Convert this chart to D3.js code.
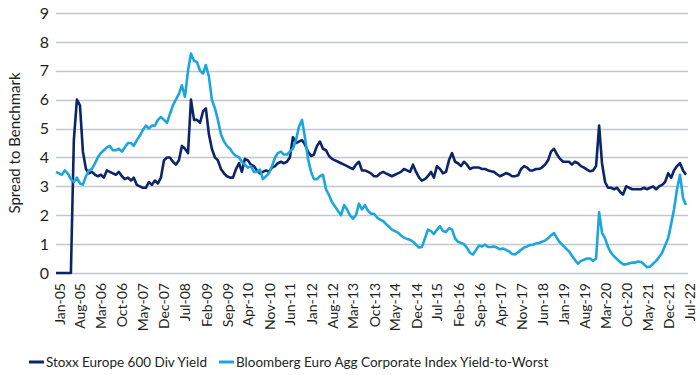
<!DOCTYPE html>
<html>
<head>
<meta charset="utf-8">
<script src="https://cdn.jsdelivr.net/npm/d3@7"></script>
<style>
  body { margin: 0; background: #fff; }
  svg text { font-family: Lato, "Open Sans", sans-serif; fill: #231f20; }
</style>
</head>
<body>
<svg id="spreadChart" width="700" height="375"></svg>
<script>
// monthly readings, Jan-05 .. Jul-22
var startMonth = "2005-01";
var yTicks = [0, 1, 2, 3, 4, 5, 6, 7, 8, 9];

var stoxxDivYield = [
  0, 0, 0, 0, 0, 0, 4.6, 6.0, 5.8, 4.2, 3.6,
  3.45, 3.5, 3.4, 3.35, 3.4, 3.3, 3.55, 3.5, 3.45, 3.4,
  3.5, 3.35, 3.25, 3.3, 3.2, 3.3, 3.05, 3.0, 2.95, 2.95,
  3.15, 3.05, 3.2, 3.1, 3.3, 3.9, 4.0, 4.0, 3.85, 3.75,
  3.9, 4.4, 4.3, 4.15, 6.0, 5.3, 5.3, 5.2, 5.6, 5.7,
  4.8, 4.3, 4.0, 3.9, 3.6, 3.45, 3.35, 3.3, 3.3, 3.6,
  3.8, 3.5, 3.95, 3.9, 3.75, 3.7, 3.55, 3.45, 3.5, 3.55,
  3.5, 3.65, 3.7, 3.8, 3.85, 3.8, 3.85, 4.0, 4.7, 4.5,
  4.55, 4.6, 4.45, 4.2, 4.05, 4.1, 4.4, 4.55, 4.3, 4.25,
  4.05, 3.95, 3.9, 3.85, 3.8, 3.75, 3.7, 3.65, 3.6, 3.75,
  3.85, 3.55, 3.55, 3.5, 3.45, 3.35, 3.35, 3.45, 3.5, 3.45,
  3.4, 3.35, 3.4, 3.45, 3.5, 3.6, 3.55, 3.5, 3.75, 3.5,
  3.3, 3.2, 3.25, 3.35, 3.5, 3.3, 3.7, 3.6, 3.45, 3.5,
  3.9, 4.15, 3.85, 3.8, 3.7, 3.85, 3.75, 3.6, 3.65, 3.65,
  3.65, 3.6, 3.6, 3.55, 3.52, 3.5, 3.42, 3.35, 3.4, 3.46,
  3.42, 3.35, 3.35, 3.38, 3.6, 3.7, 3.65, 3.55, 3.55, 3.6,
  3.6, 3.65, 3.75, 3.9, 4.2, 4.3, 4.1, 3.95, 3.85, 3.85,
  3.85, 3.75, 3.85, 3.8, 3.7, 3.65, 3.58, 3.52, 3.55, 3.7,
  5.1, 3.8, 3.15, 2.95, 2.95, 2.9, 2.95, 2.8, 2.72, 3.0,
  2.95, 2.9, 2.9, 2.9, 2.9, 2.95, 2.9, 2.95, 3.0, 2.9,
  3.0, 3.05, 3.15, 3.45, 3.3, 3.55, 3.7, 3.8, 3.55, 3.4
];

var bbgEuroAggYtw = [
  3.5, 3.45, 3.4, 3.55, 3.45, 3.25, 3.15, 3.3, 3.1, 3.06, 3.35,
  3.55, 3.6, 3.8, 4.0, 4.15, 4.25, 4.35, 4.4, 4.25, 4.25,
  4.3, 4.2, 4.35, 4.5, 4.5, 4.4, 4.6, 4.75, 4.95, 5.1,
  5.0, 5.1, 5.1, 5.3, 5.4, 5.3, 5.2, 5.5, 5.8, 6.0,
  6.2, 6.5, 6.1, 7.0, 7.6, 7.35, 7.3, 7.0, 6.9, 7.2,
  6.8, 6.0, 5.7, 5.3, 4.8, 4.55, 4.4, 4.3, 4.15, 4.05,
  4.0, 3.85, 3.75, 3.65, 3.7, 3.5, 3.5, 3.58, 3.25, 3.35,
  3.45, 3.7, 4.0, 4.15, 4.2, 4.1, 4.1, 4.2, 4.3, 4.6,
  5.05, 5.3, 4.7, 3.95, 3.5, 3.25, 3.25, 3.35, 3.4, 2.9,
  2.7, 2.45, 2.3, 2.15, 2.0, 2.35, 2.2, 2.0, 1.88, 2.0,
  2.4, 2.2, 2.35, 2.15, 2.05, 2.05, 1.92, 1.85, 1.8, 1.7,
  1.6, 1.5, 1.45, 1.4, 1.3, 1.22, 1.18, 1.15, 1.08, 0.98,
  0.88, 0.9, 1.2, 1.5, 1.45, 1.35, 1.5, 1.62, 1.45, 1.42,
  1.55, 1.5, 1.2, 1.08, 1.04, 1.0, 0.87, 0.7, 0.64, 0.8,
  0.95, 0.92, 0.98, 0.9, 0.9, 0.92, 0.88, 0.82, 0.85, 0.8,
  0.75, 0.66, 0.64, 0.72, 0.8, 0.88, 0.92, 0.97, 0.98, 1.02,
  1.04, 1.08, 1.12, 1.2, 1.3, 1.38, 1.2, 1.05, 0.95, 0.85,
  0.75, 0.6, 0.45, 0.32, 0.42, 0.46, 0.5, 0.5, 0.42, 0.5,
  2.1, 1.4, 1.2, 0.9, 0.7, 0.58, 0.48, 0.38, 0.3, 0.3,
  0.33, 0.36, 0.36, 0.4, 0.38, 0.3, 0.2, 0.22, 0.32, 0.42,
  0.55, 0.7, 0.95, 1.2, 1.7, 2.2, 2.9, 3.4, 2.6, 2.35
];

var seriesNames = ["Stoxx Europe 600 Div Yield", "Bloomberg Euro Agg Corporate Index Yield-to-Worst"];
var seriesColors = ["#0c2468", "#1ba6de"];

var parseMonth = d3.timeParse("%Y-%m");
var fmtTick = d3.timeFormat("%b-%y");

var svg = d3.select("#spreadChart"),
  margin = { top: 13, right: 14, bottom: 102, left: 56 },
  width = +svg.attr("width") - margin.left - margin.right,
  height = +svg.attr("height") - margin.top - margin.bottom;

var t0 = parseMonth(startMonth);
var dates = stoxxDivYield.map(function(d, i) {
  return d3.timeMonth.offset(t0, i);
});

var x = d3.scaleTime()
  .domain([t0, dates[dates.length - 1]])
  .range([0, 630]);
var y = d3.scaleLinear().domain([0, 9]).range([height, 0]);

var g = svg.append("g")
  .attr("transform", "translate(" + margin.left + "," + margin.top + ")");

// horizontal gridlines
g.append("g")
  .attr("class", "grid")
  .selectAll("line")
  .data(yTicks)
  .enter()
  .append("line")
  .attr("x1", 0)
  .attr("x2", 632)
  .attr("y1", function(d) { return Math.round(y(d)) + 0.5; })
  .attr("y2", function(d) { return Math.round(y(d)) + 0.5; })
  .attr("stroke", "#c3c7cc")
  .attr("stroke-width", 1.4);

// y axis labels
g.append("g")
  .call(d3.axisLeft(y).tickValues(yTicks).tickSize(0).tickPadding(7))
  .call(function(a) { a.select(".domain").remove(); })
  .selectAll("text")
  .style("font-size", "16px");

// x axis, one tick every 7 months
var xTicks = d3.range(0, dates.length, 7).map(function(i) { return dates[i]; });
g.append("g")
  .attr("transform", "translate(0," + height + ")")
  .call(d3.axisBottom(x).tickValues(xTicks).tickFormat(fmtTick).tickSize(0))
  .call(function(a) { a.select(".domain").remove(); })
  .selectAll("text")
  .style("font-size", "14px")
  .attr("text-anchor", "end")
  .attr("dx", 0)
  .attr("dy", 0)
  .attr("transform", "translate(5,10) rotate(-90)");

// y axis title
svg.append("text")
  .attr("transform", "translate(20," + (margin.top + height / 2) + ") rotate(-90)")
  .attr("text-anchor", "middle")
  .style("font-size", "15px")
  .text("Spread to Benchmark");

var line = d3.line()
  .x(function(d, i) { return x(dates[i]); })
  .y(function(d) { return y(d); });

[stoxxDivYield, bbgEuroAggYtw].forEach(function(vals, k) {
  g.append("path")
    .datum(vals)
    .attr("fill", "none")
    .attr("stroke", seriesColors[k])
    .attr("stroke-width", 2.6)
    .attr("stroke-linejoin", "round")
    .attr("d", line);
});

// legend, items laid out one after the other
var legend = svg.append("g").attr("transform", "translate(0,362)");
var cursor = 29;
seriesNames.forEach(function(name, k) {
  legend.append("line")
    .attr("x1", cursor)
    .attr("x2", cursor + 15)
    .attr("stroke", seriesColors[k])
    .attr("stroke-width", 3);
  var txt = legend.append("text")
    .attr("x", cursor + 17)
    .attr("dy", "0.35em")
    .style("font-size", "13.5px")
    .text(name);
  cursor += 17 + txt.node().getComputedTextLength() + 12;
});
</script>
</body>
</html>
